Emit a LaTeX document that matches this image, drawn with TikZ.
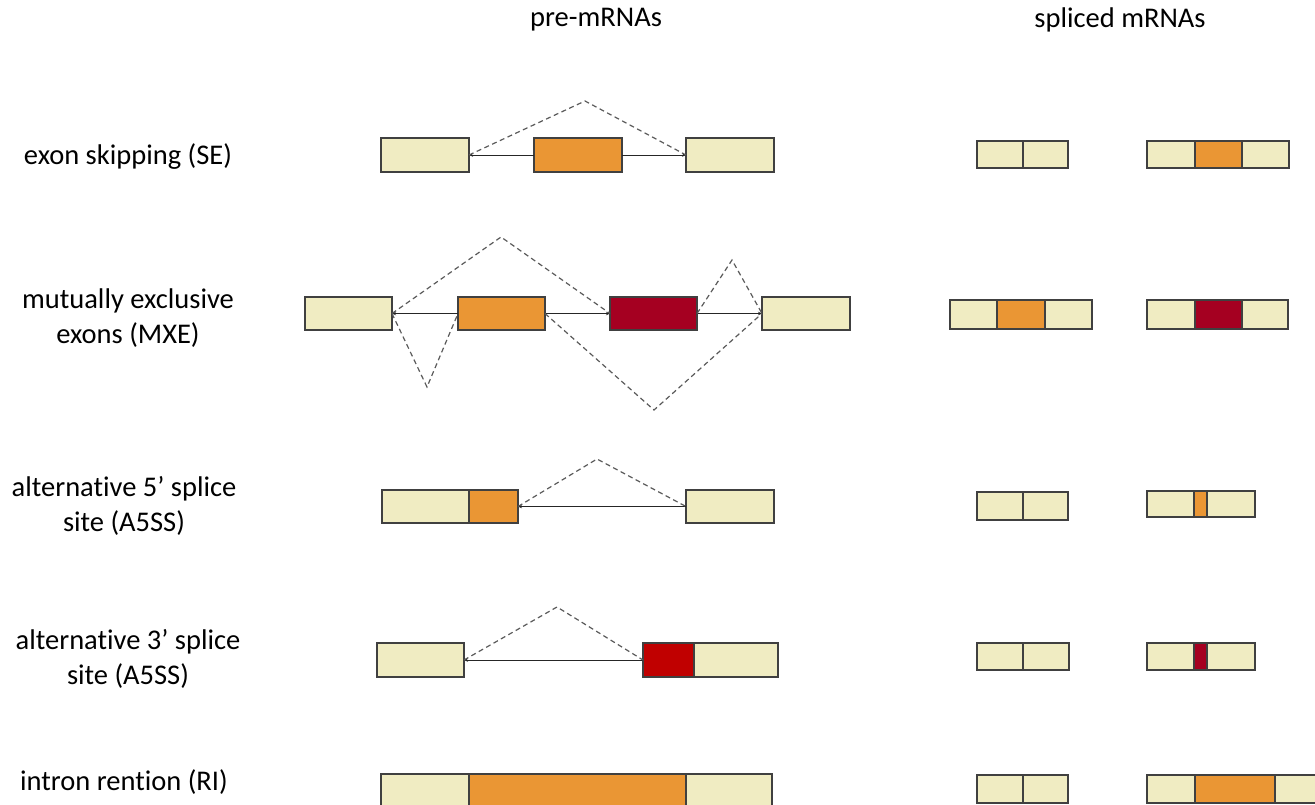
\documentclass[tikz,border=0pt]{standalone}
\usepackage{fontspec}
\setmainfont[Ligatures=NoCommon]{Carlito}
\usetikzlibrary{arrows.meta}
\definecolor{beige}{HTML}{F0ECC2}
\definecolor{orng}{HTML}{EA9634}
\definecolor{dred}{HTML}{A50021}
\definecolor{bred}{HTML}{C00000}
\definecolor{bord}{HTML}{404040}
\definecolor{dgray}{HTML}{5A5A5A}
\tikzset{
  ex/.style={draw=bord, line width=1.2pt, inner sep=0pt, outer sep=0pt, anchor=north west},
  bx/.style={ex, fill=beige},
  ox/.style={ex, fill=orng},
  rx/.style={ex, fill=dred},
  brx/.style={ex, fill=bred},
  lbl/.style={font=\fontsize{28.5}{35}\selectfont, align=center, text=black},
  sol/.style={draw=black!85, line width=1pt},
  dsh/.style={draw=dgray, line width=1.2pt, dash pattern=on 5pt off 3.5pt},
  tip/.style={-{Stealth[length=4pt,width=3.5pt]}},
}
\begin{document}
\begin{tikzpicture}[x=1pt,y=-1pt]
\useasboundingbox (0,0) rectangle (1315,804);
% headers
\node[lbl] (hpre) at (596,20) {pre-mRNAs};
\node[lbl] (hspl) at (1120,20) {spliced mRNAs};
% row labels
\node[lbl] (l1) at (128,157) {exon skipping (SE)};
\node[lbl] (l2) at (128,318) {mutually exclusive\\exons (MXE)};
\node[lbl] (l3) at (124,506) {alternative 5’ splice\\site (A5SS)};
\node[lbl] (l4) at (128,659) {alternative 3’ splice\\site (A5SS)};
\node[lbl] (l5) at (124,782) {intron rention (RI)};

% ---- SE ----
\node[bx, minimum width=88pt, minimum height=34pt] (se1) at (381,138) {};
\node[ox, minimum width=88pt, minimum height=34pt] (se2) at (534,138) {};
\node[bx, minimum width=88pt, minimum height=34pt] (se3) at (686,138) {};
\draw[sol,tip] (se2.west) -- (se1.east);
\draw[sol,tip] (se2.east) -- (se3.west);
\coordinate (sep) at (585,101);
\draw[dsh] (se1.east) -- (sep) -- (se3.west);

% ---- MXE ----
\node[bx, minimum width=87pt, minimum height=33pt] (mx1) at (305,297) {};
\node[ox, minimum width=87pt, minimum height=33pt] (mx2) at (458,297) {};
\node[rx, minimum width=87pt, minimum height=33pt] (mx3) at (610,297) {};
\node[bx, minimum width=88pt, minimum height=33pt] (mx4) at (762,297) {};
\draw[sol,tip] (mx2.west) -- (mx1.east);
\draw[sol,tip] (mx2.east) -- (mx3.west);
\draw[sol,tip] (mx3.east) -- (mx4.west);
\coordinate (mxa) at (501,237);
\coordinate (mxb) at (427,387);
\coordinate (mxc) at (654,410);
\coordinate (mxd) at (732,260);
\draw[dsh] (mx1.east) -- (mxa) -- (mx3.west);
\draw[dsh] (mx1.east) -- (mxb) -- (mx2.west);
\draw[dsh] (mx2.east) -- (mxc) -- (mx4.west);
\draw[dsh] (mx3.east) -- (mxd) -- (mx4.west);

% ---- A5SS ----
\node[bx, minimum width=87pt, minimum height=33pt] (a51) at (382,490) {};
\node[ox, minimum width=49pt, minimum height=33pt] (a52) at (469,490) {};
\node[bx, minimum width=88pt, minimum height=33pt] (a53) at (686,490) {};
\draw[sol,tip] (a53.west) -- (a52.east);
\coordinate (a5p) at (597,459);
\draw[dsh] (a52.east) -- (a5p) -- (a53.west);

% ---- A3SS ----
\node[bx, minimum width=87pt, minimum height=34pt] (a31) at (377,643) {};
\node[brx, minimum width=51pt, minimum height=34pt] (a32) at (643,643) {};
\node[bx, minimum width=84pt, minimum height=34pt] (a33) at (694,643) {};
\draw[sol,tip] (a32.west) -- (a31.east);
\coordinate (a3p) at (557,607);
\draw[dsh] (a31.east) -- (a3p) -- (a32.west);

% ---- RI ----
\node[bx, minimum width=88pt, minimum height=40pt] (ri1) at (381,774) {};
\node[ox, minimum width=217pt, minimum height=40pt] (ri2) at (469,774) {};
\node[bx, minimum width=86pt, minimum height=40pt] (ri3) at (686,774) {};

% ---- spliced: SE ----
\node[bx, minimum width=46pt, minimum height=27pt] (s1a) at (977,141) {};
\node[bx, minimum width=45pt, minimum height=27pt] (s1b) at (1023,141) {};
\node[bx, minimum width=48pt, minimum height=27pt] (s1c) at (1147,141) {};
\node[ox, minimum width=47pt, minimum height=27pt] (s1d) at (1195,141) {};
\node[bx, minimum width=47pt, minimum height=27pt] (s1e) at (1242,141) {};
% ---- spliced: MXE ----
\node[bx, minimum width=47pt, minimum height=29pt] (s2a) at (950,300) {};
\node[ox, minimum width=48pt, minimum height=29pt] (s2b) at (997,300) {};
\node[bx, minimum width=47pt, minimum height=29pt] (s2c) at (1045,300) {};
\node[bx, minimum width=48pt, minimum height=29pt] (s2d) at (1147,300) {};
\node[rx, minimum width=47pt, minimum height=29pt] (s2e) at (1195,300) {};
\node[bx, minimum width=46pt, minimum height=29pt] (s2f) at (1242,300) {};
% ---- spliced: A5SS ----
\node[bx, minimum width=46pt, minimum height=28pt] (s3a) at (977,492) {};
\node[bx, minimum width=45pt, minimum height=28pt] (s3b) at (1023,492) {};
\node[bx, minimum width=47pt, minimum height=26pt] (s3c) at (1147,491) {};
\node[ox, minimum width=13pt, minimum height=26pt] (s3d) at (1194,491) {};
\node[bx, minimum width=48pt, minimum height=26pt] (s3e) at (1207,491) {};
% ---- spliced: A3SS ----
\node[bx, minimum width=46pt, minimum height=27pt] (s4a) at (977,643) {};
\node[bx, minimum width=46pt, minimum height=27pt] (s4b) at (1023,643) {};
\node[bx, minimum width=47pt, minimum height=27pt] (s4c) at (1147,643) {};
\node[rx, minimum width=13pt, minimum height=27pt] (s4d) at (1194,643) {};
\node[bx, minimum width=48pt, minimum height=27pt] (s4e) at (1207,643) {};
% ---- spliced: RI ----
\node[bx, minimum width=46pt, minimum height=28pt] (s5a) at (977,775) {};
\node[bx, minimum width=45pt, minimum height=28pt] (s5b) at (1023,775) {};
\node[bx, minimum width=48pt, minimum height=28pt] (s5c) at (1147,775) {};
\node[ox, minimum width=80pt, minimum height=28pt] (s5d) at (1195,775) {};
\node[bx, minimum width=50pt, minimum height=28pt] (s5e) at (1275,775) {};
\end{tikzpicture}
\end{document}
